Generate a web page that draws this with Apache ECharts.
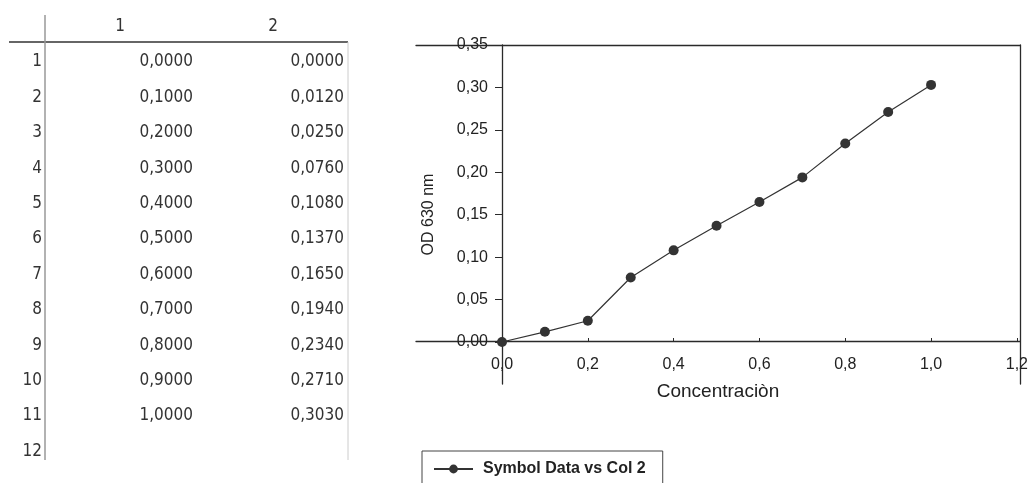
<!DOCTYPE html>
<html>
<head>
<meta charset="utf-8">
<script src="https://cdn.jsdelivr.net/npm/echarts@6/dist/echarts.min.js"></script>
<style>
html,body{margin:0;padding:0;background:#fff;}
#chart{width:1031px;height:483px;}
</style>
</head>
<body>
<div id="chart"></div>
<script>
// ---- data ----
const concentration = [0.0, 0.1, 0.2, 0.3, 0.4, 0.5, 0.6, 0.7, 0.8, 0.9, 1.0];
const od630 = [0.0, 0.012, 0.025, 0.076, 0.108, 0.137, 0.165, 0.194, 0.234, 0.271, 0.303];
const xTicks = [0, 0.2, 0.4, 0.6, 0.8, 1.0, 1.2];
const yTicks = [0, 0.05, 0.10, 0.15, 0.20, 0.25, 0.30, 0.35];
const tableHeaders = ['1', '2'];
const tableRowLabels = ['1','2','3','4','5','6','7','8','9','10','11','12'];
const seriesName = 'Symbol Data vs Col 2';
const xName = 'Concentraciòn';
const yName = 'OD 630 nm';

const chart = echarts.init(document.getElementById('chart'), null, {renderer: 'canvas'});

function comma(v, d) { return v.toFixed(d).replace('.', ','); }

// ---- table (left) built from the data arrays ----
const tFont = "17px 'DejaVu Sans Condensed', 'DejaVu Sans', sans-serif";
const tColor = '#333';
const rowY0 = 62, rowStep = 35.4;
const colRight = [193, 344];
const headerX = [120, 273];
const graphics = [];
graphics.push({type:'line', shape:{x1:9, y1:42, x2:348, y2:42}, style:{stroke:'#666', lineWidth:2}, silent:true});
graphics.push({type:'line', shape:{x1:45, y1:15, x2:45, y2:460}, style:{stroke:'#999', lineWidth:1.5}, silent:true});
graphics.push({type:'line', shape:{x1:348, y1:42, x2:348, y2:460}, style:{stroke:'#ccc', lineWidth:1}, silent:true});
tableHeaders.forEach((h, j) => {
  graphics.push({type:'text', x: headerX[j], y: 27, silent:true,
    style:{text:h, font:tFont, fill:tColor, textAlign:'center', textVerticalAlign:'middle'}});
});
tableRowLabels.forEach((r, i) => {
  graphics.push({type:'text', x: 42, y: rowY0 + i*rowStep, silent:true,
    style:{text:r, font:tFont, fill:tColor, textAlign:'right', textVerticalAlign:'middle'}});
});
concentration.forEach((c, i) => {
  graphics.push({type:'text', x: colRight[0], y: rowY0 + i*rowStep, silent:true,
    style:{text:comma(c, 4), font:tFont, fill:tColor, textAlign:'right', textVerticalAlign:'middle'}});
  graphics.push({type:'text', x: colRight[1], y: rowY0 + i*rowStep, silent:true,
    style:{text:comma(od630[i], 4), font:tFont, fill:tColor, textAlign:'right', textVerticalAlign:'middle'}});
});

const axisColor = '#2a2a2a';
const textColor = '#222';
const cFont = "'Liberation Sans', Arial, sans-serif";
const lineOnly = {axisTick: {show: false}, axisLabel: {show: false}, splitLine: {show: false}};

const option = {
  animation: false,
  backgroundColor: '#fff',
  graphic: graphics,
  grid: [
    // data grid: x 0..1.2, y 0..0.35
    {left: 502, right: 11, top: 45, bottom: 141, containLabel: false},
    // frame grid: x -0.2..1.2, y -0.05..0.35 (axis lines that extend past zero)
    {left: 416, right: 11, top: 45, bottom: 99, containLabel: false}
  ],
  legend: {
    data: [seriesName],
    left: 422, top: 451,
    padding: [10, 17, 30, 11],
    borderColor: '#444', borderWidth: 1,
    itemWidth: 39, itemHeight: 11,
    textStyle: {fontFamily: cFont, fontSize: 16, fontWeight: 'bold', color: textColor, padding: [0, 0, 0, 5]}
  },
  xAxis: [
    {
      gridIndex: 0, type: 'value', min: 0, max: 1.2, interval: 0.2,
      axisLine: {show: false},
      axisTick: {show: true, inside: true, length: 4, customValues: xTicks, lineStyle: {color: axisColor}},
      axisLabel: {show: true, margin: 15, customValues: xTicks, showMinLabel: true, showMaxLabel: true,
        fontFamily: cFont, fontSize: 16, color: textColor, formatter: v => comma(v, 1)},
      splitLine: {show: false}
    },
    Object.assign({
      gridIndex: 1, type: 'value', min: -0.2, max: 1.2, position: 'bottom',
      name: xName, nameLocation: 'middle', nameGap: -2,
      nameTextStyle: {fontFamily: cFont, fontSize: 19, color: textColor},
      axisLine: {show: true, onZero: true, lineStyle: {color: axisColor, width: 1.3}}
    }, lineOnly),
    Object.assign({
      gridIndex: 1, type: 'value', min: -0.2, max: 1.2, position: 'top',
      axisLine: {show: true, onZero: false, lineStyle: {color: axisColor, width: 1.3}}
    }, lineOnly)
  ],
  yAxis: [
    {
      gridIndex: 0, type: 'value', min: 0, max: 0.35, interval: 0.05,
      axisLine: {show: false},
      axisTick: {show: true, inside: false, length: 7, customValues: yTicks, lineStyle: {color: axisColor}},
      axisLabel: {show: true, margin: 14, customValues: yTicks, showMinLabel: true, showMaxLabel: true,
        fontFamily: cFont, fontSize: 16, color: textColor, formatter: v => comma(v, 2)},
      splitLine: {show: false}
    },
    Object.assign({
      gridIndex: 1, type: 'value', min: -0.05, max: 0.35, position: 'left',
      name: yName, nameLocation: 'middle', nameGap: -21, nameRotate: 90,
      nameTextStyle: {fontFamily: cFont, fontSize: 16, color: textColor},
      axisLine: {show: true, onZero: true, lineStyle: {color: axisColor, width: 1.3}}
    }, lineOnly),
    Object.assign({
      gridIndex: 1, type: 'value', min: -0.05, max: 0.35, position: 'right',
      axisLine: {show: true, onZero: false, lineStyle: {color: axisColor, width: 1.3}}
    }, lineOnly)
  ],
  series: [
    {
      name: seriesName,
      type: 'line',
      xAxisIndex: 0, yAxisIndex: 0,
      data: concentration.map((c, i) => [c, od630[i]]),
      symbol: 'circle', symbolSize: 10,
      itemStyle: {color: '#333'},
      lineStyle: {color: '#333', width: 1.2},
      emphasis: {disabled: true}
    }
  ]
};
chart.setOption(option);
</script>
</body>
</html>
